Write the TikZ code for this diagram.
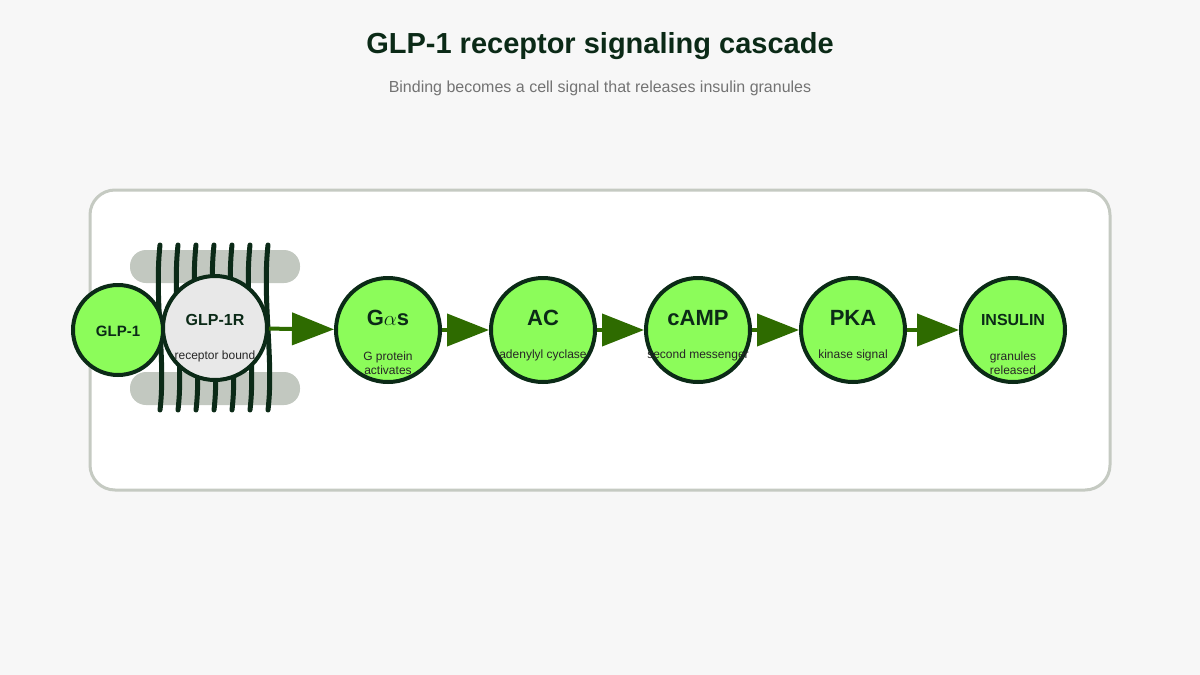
\documentclass[tikz,border=0pt]{standalone}
\usepackage{fontspec}
\setmainfont{Liberation Sans}
\usetikzlibrary{arrows.meta}
\definecolor{ink}{HTML}{0B2A17}
\definecolor{leaf}{HTML}{8CFC5A}
\definecolor{arrowgreen}{HTML}{2E6B00}
\definecolor{panelline}{HTML}{C5CAC2}
\definecolor{membrane}{HTML}{C2C8C0}
\tikzset{
  stage/.style={circle, draw=ink, line width=4pt, fill=leaf, minimum size=104pt, inner sep=0pt},
  flow/.style={arrowgreen, line width=4pt, -{Triangle[length=42pt,width=32pt]}},
  big/.style={font=\bfseries\fontsize{22}{24}\selectfont, text=ink},
  small/.style={font=\fontsize{12}{14}\selectfont, text=black!85, align=center}
}
\begin{document}
\begin{tikzpicture}[x=1pt,y=-1pt]
                \useasboundingbox (0,0) rectangle (1200,675);
                \fill[black!3] (0,0) rectangle (1200,675);

                %% title
                \node[font=\bfseries\fontsize{29}{32}\selectfont, text=ink] (title) at (600,46) {GLP-1 receptor signaling cascade};
                \node[font=\fontsize{16}{18}\selectfont, text=black!55] (subtitle) at (600,88) {Binding becomes a cell signal that releases insulin granules};

                %% panel
                \draw[panelline, line width=3pt, fill=white, rounded corners=25pt] (90,190) rectangle (1110,490);

                %% membrane
                \fill[membrane, rounded corners=16pt] (130,250) rectangle (300,283);
                \fill[membrane, rounded corners=16pt] (130,372) rectangle (300,405);
                \foreach \x in {160,178,196,214,232,250,268}
                    \draw[ink, line width=5pt, line cap=round] (\x,245) .. controls (\x-6,300) and (\x+6,360) .. (\x,410);

                %% ligand and receptor
                \node[stage, minimum size=90pt] (glp) at (118,330) {};
                \node[font=\bfseries\fontsize{15}{17}\selectfont, text=ink] at (118,331) {GLP-1};
                \node[stage, fill=black!9] (rec) at (215,328) {};
                \node[font=\bfseries\fontsize{16}{18}\selectfont, text=ink] at (215,320) {GLP-1R};
                \node[small] at (215,356) {receptor bound};

                %% cascade
                \node[stage] (gas) at (388,330) {};
                \node[big] at (388,318) {G$\alpha$s};
                \node[small] at (388,363) {G protein\\activates};

                \node[stage] (ac) at (543,330) {};
                \node[big] at (543,318) {AC};
                \node[small] at (543,355) {adenylyl cyclase};

                \node[stage] (camp) at (698,330) {};
                \node[big] at (698,318) {cAMP};
                \node[small] at (698,355) {second messenger};

                \node[stage] (pka) at (853,330) {};
                \node[big] at (853,318) {PKA};
                \node[small] at (853,355) {kinase signal};

                \node[stage] (ins) at (1013,330) {};
                \node[font=\bfseries\fontsize{16}{18}\selectfont, text=ink] at (1013,320) {INSULIN};
                \node[small] at (1013,363) {granules\\released};

                %% arrows
                \draw[flow] (rec) -- (gas);
                \draw[flow] (gas) -- (ac);
                \draw[flow] (ac) -- (camp);
                \draw[flow] (camp) -- (pka);
                \draw[flow] (pka) -- (ins);
\end{tikzpicture}
\end{document}
